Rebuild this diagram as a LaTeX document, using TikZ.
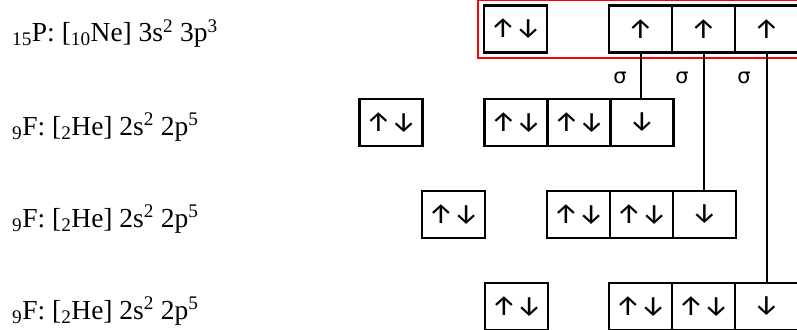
\documentclass[tikz,border=0pt]{standalone}
\usepackage{fontspec}
\setmainfont{Liberation Serif}
\newfontfamily\spinfont{Fira Sans}
\newfontfamily\sigfont{DejaVu Sans}
\usepackage{tikz}

\begin{document}
\begin{tikzpicture}[x=1pt,y=-1pt,
	orb/.style={draw, line width=2.6pt, minimum width=63pt, minimum height=47pt, inner sep=0pt, font=\spinfont\fontsize{28}{28}\selectfont},
	conf/.style={anchor=base west, inner sep=0pt, font=\fontsize{27.5}{33}\selectfont},
	bond/.style={line width=2pt},
	sig/.style={inner sep=0pt, font=\sigfont\fontsize{21}{21}\selectfont}]
			\useasboundingbox (0,0) rectangle (797,329);
			% configurations
			\node[conf] (cP) at (12,41.5) {\textsubscript{15}P: [\textsubscript{10}Ne] 3s\textsuperscript{2} 3p\textsuperscript{3}};
			\node[conf] (cF1) at (12,135) {\textsubscript{9}F: [\textsubscript{2}He] 2s\textsuperscript{2} 2p\textsuperscript{5}};
			\node[conf] (cF2) at (12,227) {\textsubscript{9}F: [\textsubscript{2}He] 2s\textsuperscript{2} 2p\textsuperscript{5}};
			\node[conf] (cF3) at (12,319) {\textsubscript{9}F: [\textsubscript{2}He] 2s\textsuperscript{2} 2p\textsuperscript{5}};
			% P
			\node[orb] (Ps) at (515.5,29) {↑↓};
			\node[orb] (Pp1) at (640.5,29) {↑};
			\node[orb] (Pp2) at (703.5,29) {↑};
			\node[orb] (Pp3) at (766.5,29) {↑};
			\draw[red, line width=1.8pt] (478,0) rectangle (815,58);
			% F 1
			\node[orb] (F1s) at (391,122.5) {↑↓};
			\node[orb] (F1p1) at (516,122.5) {↑↓};
			\node[orb] (F1p2) at (579,122.5) {↑↓};
			\node[orb] (F1p3) at (642,122.5) {↓};
			% F 2
			\node[orb] (F2s) at (453.5,214.5) {↑↓};
			\node[orb] (F2p1) at (578.5,214.5) {↑↓};
			\node[orb] (F2p2) at (641.5,214.5) {↑↓};
			\node[orb] (F2p3) at (704.5,214.5) {↓};
			% F 3
			\node[orb] (F3s) at (516.5,306.5) {↑↓};
			\node[orb] (F3p1) at (640.5,306.5) {↑↓};
			\node[orb] (F3p2) at (703.5,306.5) {↑↓};
			\node[orb] (F3p3) at (766.5,306.5) {↓};
			% sigma bonds
			\draw[bond] (Pp1.south) -- (Pp1.south |- F1p3.north);
			\draw[bond] (Pp2.south) -- (Pp2.south |- F2p3.north);
			\draw[bond] (Pp3.south) -- (Pp3.south |- F3p3.north);
			\node[sig] (s1) at (620,78) {σ};
			\node[sig] (s2) at (682,78) {σ};
			\node[sig] (s3) at (744,78) {σ};
\end{tikzpicture}
\end{document}
